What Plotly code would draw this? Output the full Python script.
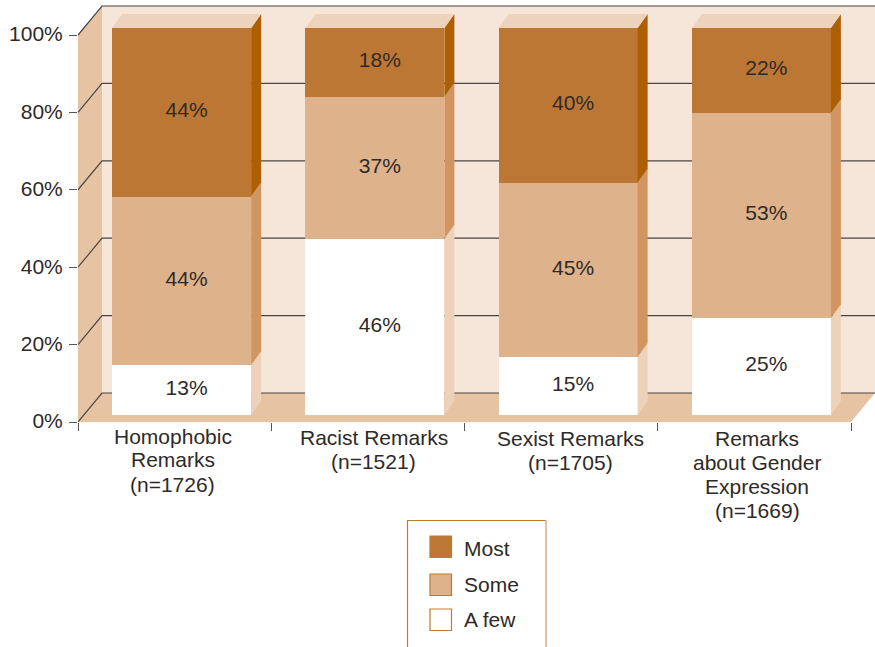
import plotly.graph_objects as go

# ---- data ----
categories = [
    ["Homophobic", "Remarks", "(n=1726)"],
    ["Racist Remarks", "(n=1521)"],
    ["Sexist Remarks", "(n=1705)"],
    ["Remarks", "about Gender", "Expression", "(n=1669)"],
]
a_few = [13, 46, 15, 25]
some = [44, 37, 45, 53]
most = [44, 18, 40, 22]
y_ticks = [0, 20, 40, 60, 80, 100]
y_tick_labels = ["0%", "20%", "40%", "60%", "80%", "100%"]
series_names = ["A few", "Some", "Most"]

# ---- styling / layout constants (pixels) ----
W, H = 875, 647
LEFT, BOTTOM, TOP100 = 78, 422, 35
CAT_W = 193.25
PPU = (BOTTOM - TOP100) / 100
WALL_DX, WALL_DY = 24, 29      # depth of the room
BAR_DX, BAR_DY = 7, 7          # bars stand this far back from the front edge
SIDE_DX, SIDE_DY = 10, 14      # depth of a bar
BAR_W = 139 / CAT_W
FRONT = ["#ffffff", "#deb28a", "#bd7735"]
SIDE = ["#edd2ba", "#d09560", "#ad5f03"]
TOPFACE = "#edd3bc"
WALL = "#f6e6da"
SIDEWALL = "#e5c3a3"
GRID = "#4b4541"
TEXT = "#2e2a28"
EDGE = "#c27a30"
FONT = "Liberation Sans"
FS = 21

ddx, ddy = WALL_DX / CAT_W, WALL_DY / PPU
x_lo, x_hi = -0.5, -0.5 + (W - LEFT) / CAT_W
y_lo, y_hi = 0, BOTTOM / PPU
sdx, sdy = SIDE_DX / CAT_W, SIDE_DY / PPU


def poly(xs, ys, color, xa="x", ya="y"):
    return go.Scatter(x=xs, y=ys, mode="lines", fill="toself", fillcolor=color,
                      line=dict(width=0), hoverinfo="skip", showlegend=False,
                      xaxis=xa, yaxis=ya)


def line(xs, ys, width=1.2):
    return go.Scatter(x=xs, y=ys, mode="lines", line=dict(color=GRID, width=width),
                      hoverinfo="skip", showlegend=False, xaxis="x", yaxis="y")


fig = go.Figure()
right = x_lo + (851 - LEFT) / CAT_W

# room: back wall, left wall, floor
fig.add_trace(poly([x_lo + ddx, x_hi, x_hi, x_lo + ddx], [ddy, ddy, 100 + ddy, 100 + ddy], WALL))
fig.add_trace(poly([x_lo, x_lo + ddx, x_lo + ddx, x_lo], [0, ddy, 100 + ddy, 100], SIDEWALL))
fig.add_trace(poly([x_lo, right, right + ddx, x_lo + ddx], [0, 0, ddy, ddy], SIDEWALL))
for t in y_ticks:
    fig.add_trace(line([x_lo, x_lo + ddx, x_hi], [t, t + ddy, t + ddy]))

# bars on an overlay coordinate system shifted back into the room
xpos = list(range(len(categories)))
for name, vals, col in zip(series_names, [a_few, some, most], FRONT):
    fig.add_trace(go.Bar(x=xpos, y=vals, name=name, width=BAR_W, marker=dict(color=col, line=dict(width=0)),
                         hoverinfo="skip", showlegend=False, xaxis="x2", yaxis="y2"))

for i in xpos:
    triple = [a_few[i], some[i], most[i]]
    tot = sum(triple)
    r = i + BAR_W / 2
    l = i - BAR_W / 2
    base = 0
    for v, sc in zip(triple, SIDE):
        h = v / tot * 100
        fig.add_trace(poly([r, r + sdx, r + sdx, r], [base, base + sdy, base + h + sdy, base + h], sc, "x2", "y2"))
        base += h
    fig.add_trace(poly([l, r, r + sdx, l + sdx], [100, 100, 100 + sdy, 100 + sdy], TOPFACE, "x2", "y2"))
    # value labels
    base = 0
    tx, ty, tt = [], [], []
    for v in triple:
        h = v / tot * 100
        tx.append(i + 5 / CAT_W)
        ty.append(base + h / 2 + 0.5 / PPU)
        tt.append(f"{v}%")
        base += h
    fig.add_trace(go.Scatter(x=tx, y=ty, text=tt, mode="text", textposition="middle center",
                             textfont=dict(family=FONT, size=FS, color=TEXT), hoverinfo="skip",
                             showlegend=False, xaxis="x2", yaxis="y2", cliponaxis=False))

# category labels (hand placed line by line in the reference)
label_dx = [-2, 6, 9, 3]
label_top = [436, 437, 438, 438]
annotations = []
for i, lines in enumerate(categories):
    for j, txt in enumerate(lines):
        annotations.append(dict(x=i, xref="x", y=(BOTTOM - (label_top[i] + 24 * j)) / (BOTTOM), yref="paper",
                                xshift=label_dx[i], text=txt, showarrow=False, xanchor="center", yanchor="middle",
                                font=dict(family=FONT, size=FS, color=TEXT)))


# legend, built in page pixels
def px(v):
    return (v - LEFT) / (W - LEFT)


def py(v):
    return (BOTTOM - v) / BOTTOM


shapes = [
    dict(type="line", xref="paper", yref="paper", x0=px(407.5), x1=px(407.5), y0=py(520.5), y1=py(647),
         line=dict(color=EDGE, width=1.2)),
    dict(type="line", xref="paper", yref="paper", x0=px(407), x1=px(546), y0=py(520.5), y1=py(520.5),
         line=dict(color=EDGE, width=1.2)),
    dict(type="line", xref="paper", yref="paper", x0=px(546), x1=px(546), y0=py(520.5), y1=py(647),
         line=dict(color=FRONT[1], width=1.6)),
]
legend_rows = [("Most", FRONT[2], 536, 548.5), ("Some", FRONT[1], 574, 584), ("A few", FRONT[0], 609, 619.5)]
for name, col, top, mid in legend_rows:
    shapes.append(dict(type="rect", xref="paper", yref="paper", x0=px(430), x1=px(451.5), y0=py(top), y1=py(top + 21.5),
                       fillcolor=col, line=dict(color=EDGE, width=1.2)))
    annotations.append(dict(x=px(462), xref="paper", y=py(mid), yref="paper", text=name, showarrow=False,
                            xanchor="left", yanchor="middle", font=dict(family=FONT, size=FS, color=TEXT)))

fig.update_layout(
    width=W, height=H, autosize=False,
    margin=dict(l=LEFT, r=0, t=0, b=H - BOTTOM, pad=0),
    paper_bgcolor="white", plot_bgcolor="white",
    barmode="stack", barnorm="percent", showlegend=False,
    font=dict(family=FONT, size=FS, color=TEXT),
    xaxis=dict(range=[x_lo, x_hi], showgrid=False, zeroline=False, showline=False,
               tickmode="array", tickvals=[-0.5, 0.5, 1.5, 2.5, 3.5], ticktext=["", "", "", "", ""],
               ticks="outside", ticklen=8, tickwidth=1.2, tickcolor="#555555"),
    yaxis=dict(range=[y_lo, y_hi], showgrid=False, zeroline=False, showline=False,
               tickmode="array", tickvals=y_ticks, ticktext=y_tick_labels,
               ticks="outside", ticklen=8, tickwidth=1.2, tickcolor="#555555",
               ticklabelstandoff=2, ticklabelshift=-1,
               tickfont=dict(family=FONT, size=FS, color=TEXT)),
    xaxis2=dict(overlaying="x", anchor="y2", visible=False,
                range=[x_lo - BAR_DX / CAT_W, x_hi - BAR_DX / CAT_W]),
    yaxis2=dict(overlaying="y", anchor="x2", visible=False,
                range=[y_lo - BAR_DY / PPU, y_hi - BAR_DY / PPU]),
    shapes=shapes, annotations=annotations,
    hovermode=False,
)

fig.write_html("out.html", config=dict(displayModeBar=False),
               post_script="document.body.style.margin='0';document.body.style.overflow='hidden';")
